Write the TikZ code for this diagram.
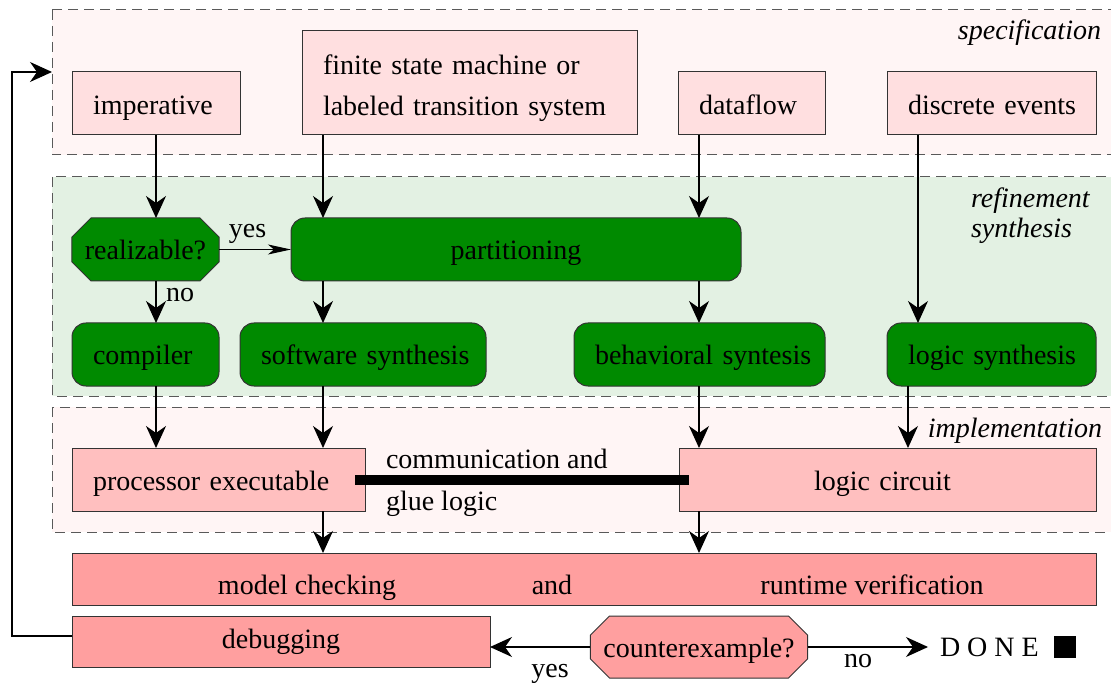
\documentclass[tikz,border=0pt]{standalone}
\usepackage{fontspec}
\setmainfont{Liberation Serif}
\usetikzlibrary{arrows.meta,shapes.misc,calc}
\definecolor{specpink}{HTML}{FFDFE0}
\definecolor{implpink}{HTML}{FFBFBF}
\definecolor{verpink}{HTML}{FF9F9F}
\definecolor{dkgreen}{HTML}{008A00}
\definecolor{regpink}{HTML}{FFF5F5}
\definecolor{reggreen}{HTML}{E3F1E3}
\begin{document}
\begin{tikzpicture}[x=0.5pt,y=-0.5pt,
  font=\fontsize{14}{17}\selectfont,
  every node/.style={inner sep=0pt, outer sep=0pt},
  sz/.style 2 args={minimum width=#1*0.5pt, minimum height=#2*0.5pt},
  lpad/.style={align=left, inner xsep=10.5pt, text width=#1},
  region/.style={draw=black!65, dash pattern=on 5pt off 3pt, line width=0.5pt},
  specbox/.style={draw=black!80, line width=0.5pt, fill=specpink, text height=13pt, text depth=1.5pt},
  greenbox/.style={draw=black!80, line width=0.5pt, fill=dkgreen, rounded corners=7pt, text height=11.5pt, text depth=1.5pt},
  implbox/.style={draw=black!80, line width=0.5pt, fill=implpink, text height=12pt, text depth=1.5pt},
  verbox/.style={draw=black!80, line width=0.5pt, fill=verpink},
  octa/.style={draw=black!80, line width=0.5pt, chamfered rectangle, chamfered rectangle xsep=8.5pt, chamfered rectangle angle=45, text height=11.5pt, text depth=1.5pt},
  arr/.style={-{Stealth[length=11pt,width=10pt,inset=3.5pt]}, line width=0.6pt},
  narrowarr/.style={-{Stealth[length=11.5pt,width=5pt,inset=3pt]}, line width=0.6pt},
  lbl/.style={anchor=base},
  reglbl/.style={font=\fontsize{14}{15}\itshape}
]
\fill[white] (0,0) rectangle (1111,683);
\useasboundingbox (0,0) rectangle (1111,683);

% regions
\filldraw[region, fill=regpink] (52,10) rectangle (1120,155);
\filldraw[region, fill=reggreen] (52,177) rectangle (1120,396);
\filldraw[region, fill=regpink] (52,407) rectangle (1120,532);
\node[reglbl, anchor=base east] (lspec) at (1101,40) {specification};
\node[reglbl, anchor=base west] (lref1) at (971,208) {refinement};
\node[reglbl, anchor=base west] (lref2) at (971,238) {synthesis};
\node[reglbl, anchor=base east] (limpl) at (1102,437) {implementation};

% column coordinates
\coordinate (c156) at (156,0);
\coordinate (c323) at (323,0);
\coordinate (c699) at (699,0);
\coordinate (c918) at (918,0);
\coordinate (c908) at (908,0);
\coordinate (specentry) at (52,72);

% specification
\node[specbox, sz={168}{63}, lpad=63pt] (imp) at (156,103.5) {imperative};
\node[draw=black!80, line width=0.5pt, fill=specpink, minimum height=52pt, text width=146.5pt, inner xsep=10.5pt, align=left,
      font=\fontsize{14}{20.5}\selectfont] (fsm) at (469.5,83) {\rule{0pt}{15.5pt}finite state machine or\\labeled transition system};
\node[specbox, sz={147}{63}, lpad=52.5pt] (df) at (751.5,103.5) {dataflow};
\node[specbox, sz={209}{63}, lpad=83.5pt] (de) at (991.5,103.5) {\mbox{discrete events}};

% refinement
\node[octa, fill=dkgreen, sz={147}{63}] (real) at (145.5,249.5) {realizable?};
\node[greenbox, sz={450}{63}] (part) at (516,249.5) {partitioning};
\node[greenbox, sz={147}{63}, lpad=52.5pt] (comp) at (145.5,354.5) {compiler};
\node[greenbox, sz={246}{63}, lpad=102pt] (sw) at (363,354.5) {\mbox{software synthesis}};
\node[greenbox, sz={251}{63}, lpad=104.5pt] (beh) at (699.5,354.5) {\mbox{behavioral syntesis}};
\node[greenbox, sz={209}{63}, lpad=83.5pt] (ls) at (991.5,354.5) {\mbox{logic synthesis}};

% implementation
\node[implbox, sz={293}{63}, lpad=125.5pt] (proc) at (218.5,479.5) {\mbox{processor executable}};
\node[implbox, sz={417}{63}, align=left, inner xsep=67.5pt, text width=73.5pt] (lc) at (887.5,479.5) {\mbox{logic circuit}};
\draw[line width=5pt] ($(proc.east)+(-10,0)$) -- ($(lc.west)+(10,0)$);
\node[anchor=base west] (comm1) at (386,468) {communication and};
\node[anchor=base west] (comm2) at (386,510) {glue logic};

% verification
\node[verbox, sz={1024}{52}] (mc) at (584,579) {};
\node[lbl] (mct1) at (307,594) {model checking};
\node[lbl] (mct2) at (552,594) {and};
\node[lbl] (mct3) at (872,594) {runtime verification};
\node[verbox, sz={418}{51}] (dbg) at (281,641.5) {debugging};
\node[octa, fill=verpink, sz={209}{62}] (cex) at (699,647) {counterexample?};
\node[anchor=west, inner xsep=6pt] (done) at (928,647) {D O N E};
\node[fill=black, sz={22}{22}] (sq) at (1064.5,646.5) {};

% connectors
\draw[arr] (imp.south) -- (imp.south |- real.north);
\draw[arr] (c323 |- fsm.south) -- (c323 |- part.north);
\draw[arr] (c699 |- df.south) -- (c699 |- part.north);
\draw[arr] (c918 |- de.south) -- (c918 |- ls.north);
\draw[narrowarr] (real.east) -- (part.west);
\node[lbl] (yes1) at (247.5,238) {yes};
\draw[arr] (c156 |- real.south) -- (c156 |- comp.north);
\node[lbl] (no1) at (180,302) {no};
\draw[arr] (c323 |- part.south) -- (c323 |- sw.north);
\draw[arr] (c699 |- part.south) -- (c699 |- beh.north);
\draw[arr] (c156 |- comp.south) -- (c156 |- proc.north);
\draw[arr] (c323 |- sw.south) -- (c323 |- proc.north);
\draw[arr] (c699 |- beh.south) -- (c699 |- lc.north);
\draw[arr] (c908 |- ls.south) -- (c908 |- lc.north);
\draw[arr] (c323 |- proc.south) -- (c323 |- mc.north);
\draw[arr] (c699 |- lc.south) -- (c699 |- mc.north);
\draw[arr] (cex.west) -- (cex.west -| dbg.east);
\node[lbl] (yes2) at (550,677) {yes};
\draw[arr] (cex.east) -- (done.west);
\node[lbl] (no2) at (858,667) {no};
\draw[arr] ($(dbg.west)+(0,-5.5)$) -- ++(-60,0) |- (specentry);
\end{tikzpicture}
\end{document}
